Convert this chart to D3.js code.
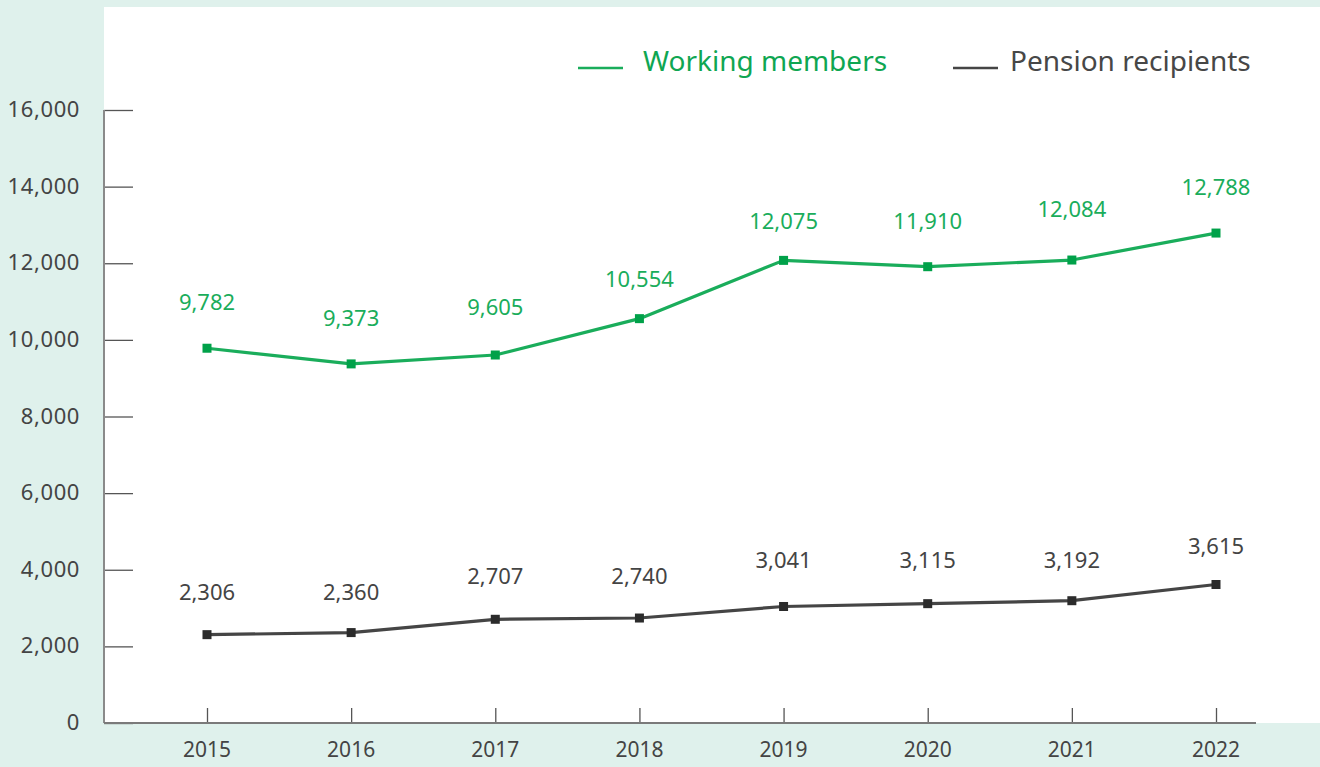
<!DOCTYPE html>
<html><head><meta charset="utf-8">
<script src="https://cdn.jsdelivr.net/npm/d3@7"></script>
<style>html,body{margin:0;padding:0;background:#dff1ec;}svg{display:block;}</style>
</head><body>
<svg id="c" width="1320" height="767"></svg>
<script>
const years = ["2015","2016","2017","2018","2019","2020","2021","2022"];
const working = [9782, 9373, 9605, 10554, 12075, 11910, 12084, 12788];
const pension = [2306, 2360, 2707, 2740, 3041, 3115, 3192, 3615];
const yTicks = [0, 2000, 4000, 6000, 8000, 10000, 12000, 14000, 16000];
const seriesNames = ["Working members", "Pension recipients"];
// label lift above point (px), layout only
const workingLift = [38, 38, 40, 32, 31, 38, 43, 38];
const pensionLift = [35, 33, 35, 34, 38, 36, 33, 31];

const green = "#1aad5b", greenMark = "#00a149", dark = "#454545", darkMark = "#2b2b2b";
const font = "'Noto Sans', sans-serif";
const svg = d3.select("#c");
svg.append("rect").attr("x",0).attr("y",0).attr("width",1320).attr("height",767).attr("fill","#dff1ec");
svg.append("rect").attr("x",104).attr("y",7).attr("width",1216).attr("height",716).attr("fill","#ffffff");

const x = d3.scalePoint().domain(years).range([207, 1216]);
const y = d3.scaleLinear().domain([0,16000]).range([723,110]);
const fmt = d3.format(",");

// y axis
const ya = svg.append("g").attr("transform","translate(104,0)")
  .call(d3.axisRight(y).tickValues(yTicks).tickSize(29).tickFormat(""));
ya.select(".domain").remove();
ya.selectAll(".tick line").attr("stroke","#555").attr("stroke-width",1.3);
svg.append("line").attr("x1",104).attr("x2",104).attr("y1",y(16000)).attr("y2",723)
  .attr("stroke","#8a8a8a").attr("stroke-width",2);
svg.selectAll(".ylab").data(yTicks).enter().append("text")
  .attr("x",80).attr("y",d=>y(d)+7).attr("text-anchor","end")
  .attr("font-family",font).attr("font-size",22).attr("letter-spacing",0.6)
  .attr("fill","#444").text(d=>fmt(d));

// x axis
const xa = svg.append("g").attr("transform","translate(0,723)")
  .call(d3.axisTop(x).tickSize(15).tickFormat(""));
xa.select(".domain").remove();
xa.selectAll(".tick line").attr("stroke","#555").attr("stroke-width",1.3);
svg.append("line").attr("x1",104).attr("x2",1256).attr("y1",723).attr("y2",723)
  .attr("stroke","#7a7a7a").attr("stroke-width",2);
svg.selectAll(".xlab").data(years).enter().append("text")
  .attr("x",d=>x(d)).attr("y",757).attr("text-anchor","middle")
  .attr("font-family",font).attr("font-size",21).attr("fill","#444").text(d=>d);

function drawSeries(vals, lift, lineColor, markColor, textColor){
  const line = d3.line().x((d,i)=>x(years[i])).y(d=>y(d));
  svg.append("path").datum(vals).attr("d",line).attr("fill","none")
    .attr("stroke",lineColor).attr("stroke-width",3.2).attr("stroke-linejoin","round");
  svg.append("g").selectAll("rect").data(vals).enter().append("rect")
    .attr("x",(d,i)=>x(years[i])-4.5).attr("y",d=>y(d)-4.5)
    .attr("width",9).attr("height",9).attr("fill",markColor);
  svg.append("g").selectAll("text").data(vals).enter().append("text")
    .attr("x",(d,i)=>x(years[i])).attr("y",(d,i)=>y(d)-lift[i])
    .attr("text-anchor","middle").attr("font-family",font).attr("font-size",22)
    .attr("fill",textColor).text(d=>fmt(d));
}
drawSeries(working, workingLift, green, greenMark, green);
drawSeries(pension, pensionLift, dark, darkMark, "#444");

// legend
const leg = [
  {name: seriesNames[0], color: green, text: "#0fa652", x1: 578, tx: 643},
  {name: seriesNames[1], color: dark, text: "#474747", x1: 953, tx: 1010}
];
leg.forEach(l=>{
  svg.append("line").attr("x1",l.x1).attr("x2",l.x1+45).attr("y1",68).attr("y2",68)
    .attr("stroke",l.color).attr("stroke-width",2.5);
  svg.append("text").attr("x",l.tx).attr("y",71).attr("font-family",font)
    .attr("font-size",28).attr("fill",l.text).text(l.name);
});
</script>
</body></html>
